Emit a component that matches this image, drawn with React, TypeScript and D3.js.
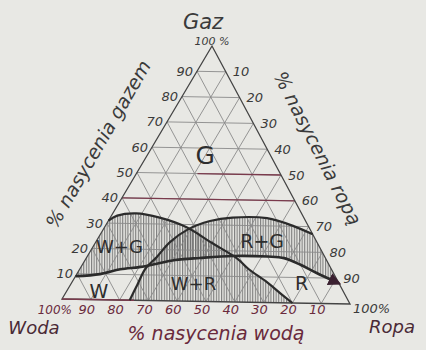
import React from 'react';
import * as d3 from 'd3';

// grid ticks (percent saturation)
const ticks = [10, 20, 30, 40, 50, 60, 70, 80, 90];
const gasTickLabels = ['10', '20', '30', '40', '50', '60', '70', '80', '90'];
const oilTickLabels = ['10', '20', '30', '40', '50', '60', '70', '80', '90'];
const waterTickLabels = ['10', '20', '30', '40', '50', '60', '70', '80', '90'];

// gas isoperm (boundary of gas flow): oil %, gas %
const gasCurveOil = [0, 8, 14, 20, 24, 31, 39, 50, 62, 68, 75, 82, 92];
const gasCurveGas = [9, 10, 12, 13, 14, 16, 17, 18, 18, 17.5, 15, 12, 8];
// water isoperm (boundary of water flow)
const waterCurveOil = [0, 2, 8, 17, 28, 40, 52, 58, 67, 75, 80];
const waterCurveGas = [31, 33, 34, 32.5, 29, 23, 17, 13, 8, 3, 0];
// oil isoperm (boundary of oil flow)
const oilCurveOil = [23.5, 23, 22.5, 24, 25.5, 29, 35, 42, 54, 65, 73];
const oilCurveGas = [0, 6, 12.5, 17, 23, 28, 31.5, 33, 33, 30, 27];

// region labels
const regionNames = ['G', 'W+G', 'W', 'W+R', 'R+G', 'R'];
const regionOil = [20, 9, 11, 42, 57, 79];
const regionGas = [57, 21, 3.4, 7, 24, 8];
const regionSize = [25, 18, 19, 18, 19, 19];

// highlighted (reddish) gas lines: gas %, starting oil %
const redGas = [40, 50];
const redFromOil = [0, 21];

export default function App() {
  const Wv = { x: 62, y: 299 };
  const Rv = { x: 350, y: 304 };
  const Gv = { x: 212, y: 46 };
  const xO = d3.scaleLinear().domain([0, 100]).range([0, Rv.x - Wv.x]);
  const yO = d3.scaleLinear().domain([0, 100]).range([0, Rv.y - Wv.y]);
  const xG = d3.scaleLinear().domain([0, 100]).range([0, Gv.x - Wv.x]);
  const yG = d3.scaleLinear().domain([0, 100]).range([0, Gv.y - Wv.y]);
  const proj = (o: number, g: number): [number, number] => [Wv.x + xO(o) + xG(g), Wv.y + yO(o) + yG(g)];

  const line = d3.line<[number, number]>().curve(d3.curveCatmullRom.alpha(0.5));
  const pts = (os: number[], gs: number[]) => os.map((o, i) => proj(o, gs[i]));
  const gasPts = pts(gasCurveOil, gasCurveGas);
  const waterPts = pts(waterCurveOil, waterCurveGas);
  const oilPts = pts(oilCurveOil, oilCurveGas);
  const gasPath = line(gasPts) as string;
  const waterPath = line(waterPts) as string;
  const oilPath = line(oilPts) as string;
  const apex = proj(0, 100), wv = proj(0, 0), rv = proj(100, 0);
  const regA = `${gasPath}L${apex[0]},${apex[1]}Z`;
  const regB = `${waterPath}L${wv[0]},${wv[1]}Z`;
  const regC = `${oilPath}L${rv[0]},${rv[1]}Z`;

  const font = "'DejaVu Sans', sans-serif";
  const dark = '#3a3a3a';
  const maroon = '#6a2a3c';
  const gridColor = '#8a8a8a';

  const gridLines: JSX.Element[] = [];
  ticks.forEach((k) => {
    const a1 = proj(0, k), a2 = proj(100 - k, k);
    const b1 = proj(k, 0), b2 = proj(k, 100 - k);
    const c1 = proj(100 - k, 0), c2 = proj(0, 100 - k);
    [[a1, a2], [b1, b2], [c1, c2]].forEach(([p, q], j) => {
      gridLines.push(
        <line key={`g${k}-${j}`} x1={p[0]} y1={p[1]} x2={q[0]} y2={q[1]} stroke={gridColor} strokeWidth={0.9} />
      );
    });
  });

  const pairs: [string, string][] = [['cA', 'cB'], ['cB', 'cC'], ['cA', 'cC']];

  return (
    <svg width={426} height={350} style={{ position: 'absolute', left: 0, top: 0 }}>
      <defs>
        <pattern id="hatch" patternUnits="userSpaceOnUse" width={2.6} height={10}>
          <line x1={0.6} y1={0} x2={0.6} y2={10} stroke="#6e6e6e" strokeWidth={1} />
        </pattern>
        <clipPath id="cA"><path d={regA} /></clipPath>
        <clipPath id="cB"><path d={regB} /></clipPath>
        <clipPath id="cC"><path d={regC} /></clipPath>
        <clipPath id="tri"><polygon points={[wv, rv, apex].map((p) => p.join(',')).join(' ')} /></clipPath>
        <marker id="arr" viewBox="0 0 10 10" refX={8} refY={5} markerWidth={5} markerHeight={5} orient="auto">
          <path d="M0,0L10,5L0,10Z" fill="#3a2030" />
        </marker>
      </defs>
      <rect x={0} y={0} width={426} height={350} fill="#e8e8e4" />
      <g clipPath="url(#tri)">
        {pairs.map(([p, q], i) => (
          <g key={i} clipPath={`url(#${p})`}>
            <rect x={0} y={0} width={426} height={350} fill="url(#hatch)" clipPath={`url(#${q})`} />
          </g>
        ))}
      </g>
      {gridLines}
      {redGas.map((k, i) => {
        const p = proj(redFromOil[i], k), q = proj(100 - k, k);
        return <line key={`r${k}`} x1={p[0]} y1={p[1]} x2={q[0]} y2={q[1]} stroke="#7a3a4c" strokeWidth={1.3} />;
      })}
      <polygon points={[wv, rv, apex].map((p) => p.join(',')).join(' ')} fill="none" stroke="#444" strokeWidth={1.3} />
      {(() => {
        const p = proj(0, 0), q = proj(25, 0);
        return <line x1={p[0]} y1={p[1]} x2={q[0]} y2={q[1]} stroke="#7a3a4c" strokeWidth={1.5} />;
      })()}
      <path d={waterPath} fill="none" stroke="#2b2b2b" strokeWidth={2.2} />
      <path d={oilPath} fill="none" stroke="#2b2b2b" strokeWidth={2.2} />
      <path d={gasPath} fill="none" stroke="#2b2b2b" strokeWidth={2.6} markerEnd="url(#arr)" />

      {/* tick labels */}
      {ticks.map((k, i) => {
        const p = proj(0, k);
        return (
          <text key={`lg${k}`} x={p[0] - 4} y={p[1]} textAnchor="end" dominantBaseline="central"
            fontFamily={font} fontStyle="italic" fontSize={13} fill={dark}>{gasTickLabels[i]}</text>
        );
      })}
      {ticks.map((k, i) => {
        const p = proj(k, 100 - k);
        return (
          <text key={`lo${k}`} x={p[0] + 7} y={p[1]} textAnchor="start" dominantBaseline="central"
            fontFamily={font} fontStyle="italic" fontSize={13} fill={dark}>{oilTickLabels[i]}</text>
        );
      })}
      {ticks.map((k, i) => {
        const p = proj(100 - k, 0);
        return (
          <text key={`lw${k}`} x={p[0] - 4} y={314} textAnchor="middle"
            fontFamily={font} fontStyle="italic" fontSize={13} fill={maroon}>{waterTickLabels[i]}</text>
        );
      })}
      <text x={72} y={314} textAnchor="end" fontFamily={font} fontStyle="italic" fontSize={12} fill={maroon}>100%</text>
      <text x={apex[0]} y={45} textAnchor="middle" fontFamily={font} fontStyle="italic" fontSize={11} fill={dark}>100 %</text>
      <text x={rv[0] + 3} y={313} textAnchor="start" fontFamily={font} fontStyle="italic" fontSize={13} fill={dark}>100%</text>

      {/* vertex names */}
      <text x={203} y={29} textAnchor="middle" fontFamily={font} fontStyle="italic" fontSize={21} fill={dark}>Gaz</text>
      <text x={34} y={334} textAnchor="middle" fontFamily={font} fontStyle="italic" fontSize={18} fill="#4a2a36">Woda</text>
      <text x={392} y={333} textAnchor="middle" fontFamily={font} fontStyle="italic" fontSize={18} fill="#4a2a36">Ropa</text>

      {/* axis titles */}
      <text x={216} y={340} textAnchor="middle" fontFamily={font} fontStyle="italic" fontSize={19} fill={maroon}>% nasycenia wodą</text>
      <text transform="translate(98,144) rotate(-60)" textAnchor="middle" dominantBaseline="central"
        fontFamily={font} fontStyle="italic" fontSize={19} fill={dark}>% nasycenia gazem</text>
      <text transform="translate(318,148) rotate(63)" textAnchor="middle" dominantBaseline="central"
        fontFamily={font} fontStyle="italic" fontSize={19} fill={dark}>% nasycenia ropą</text>

      {/* region labels */}
      {regionNames.map((n, i) => {
        const p = proj(regionOil[i], regionGas[i]);
        return (
          <text key={n} x={p[0]} y={p[1]} textAnchor="middle" dominantBaseline="central"
            fontFamily={font} fontSize={regionSize[i]} fill="#2e2e2e">{n}</text>
        );
      })}
    </svg>
  );
}
